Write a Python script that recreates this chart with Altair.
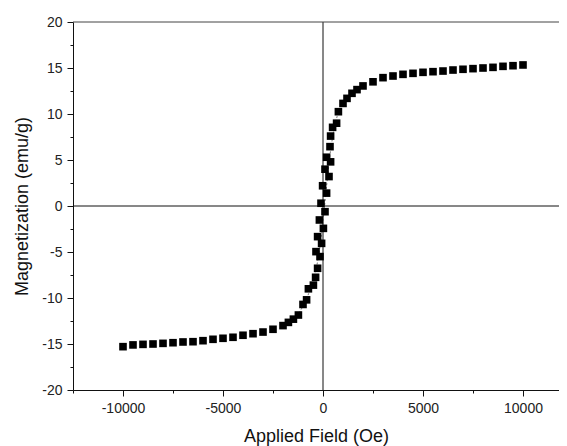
import altair as alt
import pandas as pd

# Descending-field branch (from +10 kOe to -10 kOe)
down_field = [10000, 9500, 9000, 8500, 8000, 7500, 7000, 6500, 6000, 5500, 5000,
              4500, 4000, 3500, 3000, 2500, 2000, 1700, 1450, 1200, 1000, 770,
              680, 380, 350, 180, 100, -20, -100, -180, -270, -350, -480, -730,
              -1000, -1230, -1480, -1730, -2000, -2500, -3000, -3500, -4000,
              -4500, -5000, -5500, -6000, -6500, -7000, -7500, -8000, -8500,
              -9000, -9500, -10000]
down_m = [15.33, 15.25, 15.18, 15.07, 15.0, 14.93, 14.86, 14.78, 14.67, 14.6, 14.53,
          14.42, 14.31, 14.13, 13.95, 13.5, 13.05, 12.65, 12.25, 11.7, 11.15, 10.25,
          9.0, 7.6, 6.45, 5.3, 4.0, 2.2, 0.3, -1.52, -3.33, -4.96, -8.6, -9.0,
          -10.7, -11.85, -12.3, -12.65, -13.0, -13.4, -13.7, -13.88, -14.05,
          -14.27, -14.38, -14.49, -14.64, -14.75, -14.78, -14.86, -14.93, -15.0,
          -15.04, -15.1, -15.29]

# Ascending-field branch (points that separate from the descending branch)
up_field = [-820, -370, -270, -150, -70, 20, 100, 180, 300, 380, 480]
up_m = [-10.2, -7.75, -6.77, -5.5, -4.06, -2.43, -0.62, 1.4, 3.2, 4.8, 8.55]

# Thin guide curve through the loop centre
guide_field = [-1300, -1000, -750, -500, -300, -150, -50, 50, 150, 250, 350, 500, 700, 950, 1300, 1800]
guide_m = [-12.0, -10.9, -9.7, -8.3, -6.4, -4.4, -2.6, -0.6, 1.6, 3.6, 5.6, 7.8, 9.7, 11.0, 12.1, 12.9]

x_major = [-10000, -5000, 0, 5000, 10000]
x_minor = [-12500, -7500, -2500, 2500, 7500]
y_major = [-20, -15, -10, -5, 0, 5, 10, 15, 20]
y_minor = [-17.5, -12.5, -7.5, -2.5, 2.5, 7.5, 12.5, 17.5]

pts = pd.concat([
    pd.DataFrame({"H": down_field, "M": down_m, "branch": "down"}),
    pd.DataFrame({"H": up_field, "M": up_m, "branch": "up"}),
])
guide = pd.DataFrame({"H": guide_field, "M": guide_m})
origin = pd.DataFrame({"H": [0], "M": [0]})

W, Hh = 486, 368
xs = alt.Scale(domain=[-12500, 11800], nice=False, zero=False)
ys = alt.Scale(domain=[-20, 20], nice=False, zero=False)

FONT = "Liberation Sans"
ax_common = dict(grid=False, domainColor="#111", tickColor="#111", labelColor="#222",
                 labelFont=FONT, labelFontSize=14, titleFont=FONT, titleFontSize=18,
                 titleFontWeight="normal", titleColor="#111", tickWidth=1, domainWidth=1,
                 labelExpr="'' + datum.value")

x_ax = alt.Axis(values=x_major, title="Applied Field (Oe)", tickSize=6, labelPadding=5,
                titlePadding=12, orient="bottom", **ax_common)
y_ax = alt.Axis(values=y_major, title="Magnetization (emu/g)", tickSize=6, labelPadding=5,
                titlePadding=10, orient="left", **ax_common)

x_ax_minor = alt.Axis(values=x_minor, title=None, labels=False, tickSize=3, domain=False,
                      grid=False, tickColor="#111", orient="bottom")
y_ax_minor = alt.Axis(values=y_minor, title=None, labels=False, tickSize=3, domain=False,
                      grid=False, tickColor="#111", orient="left")

points = alt.Chart(pts).mark_square(size=58, color="black", opacity=1).encode(
    x=alt.X("H:Q", scale=xs, axis=x_ax),
    y=alt.Y("M:Q", scale=ys, axis=y_ax),
)

minor = alt.Chart(pts).mark_point(opacity=0).encode(
    x=alt.X("H:Q", scale=xs, axis=x_ax_minor),
    y=alt.Y("M:Q", scale=ys, axis=y_ax_minor),
)

guide_line = alt.Chart(guide).mark_line(color="#555", strokeWidth=0.8, strokeDash=[2, 2]).encode(
    x=alt.X("H:Q", scale=xs, axis=None),
    y=alt.Y("M:Q", scale=ys, axis=None),
)

vline = alt.Chart(origin).mark_rule(color="#111", strokeWidth=1).encode(
    x=alt.X("H:Q", scale=xs, axis=None)
)
hline = alt.Chart(origin).mark_rule(color="#111", strokeWidth=1).encode(
    y=alt.Y("M:Q", scale=ys, axis=None)
)
topline = alt.Chart(origin).mark_rule(color="#444", strokeWidth=1).encode(
    x=alt.value(0), x2=alt.value(W), y=alt.value(0)
)

chart = alt.layer(vline, hline, topline, guide_line, minor, points).resolve_axis(
    x="independent", y="independent"
).properties(
    width=W, height=Hh,
    autosize=alt.AutoSizeParams(type="none"),
    padding={"left": 65, "top": 14, "right": 0, "bottom": 56},
    background="white",
).configure_view(stroke=None)

chart.save("out.html", embed_options={"renderer": "svg", "actions": False})
